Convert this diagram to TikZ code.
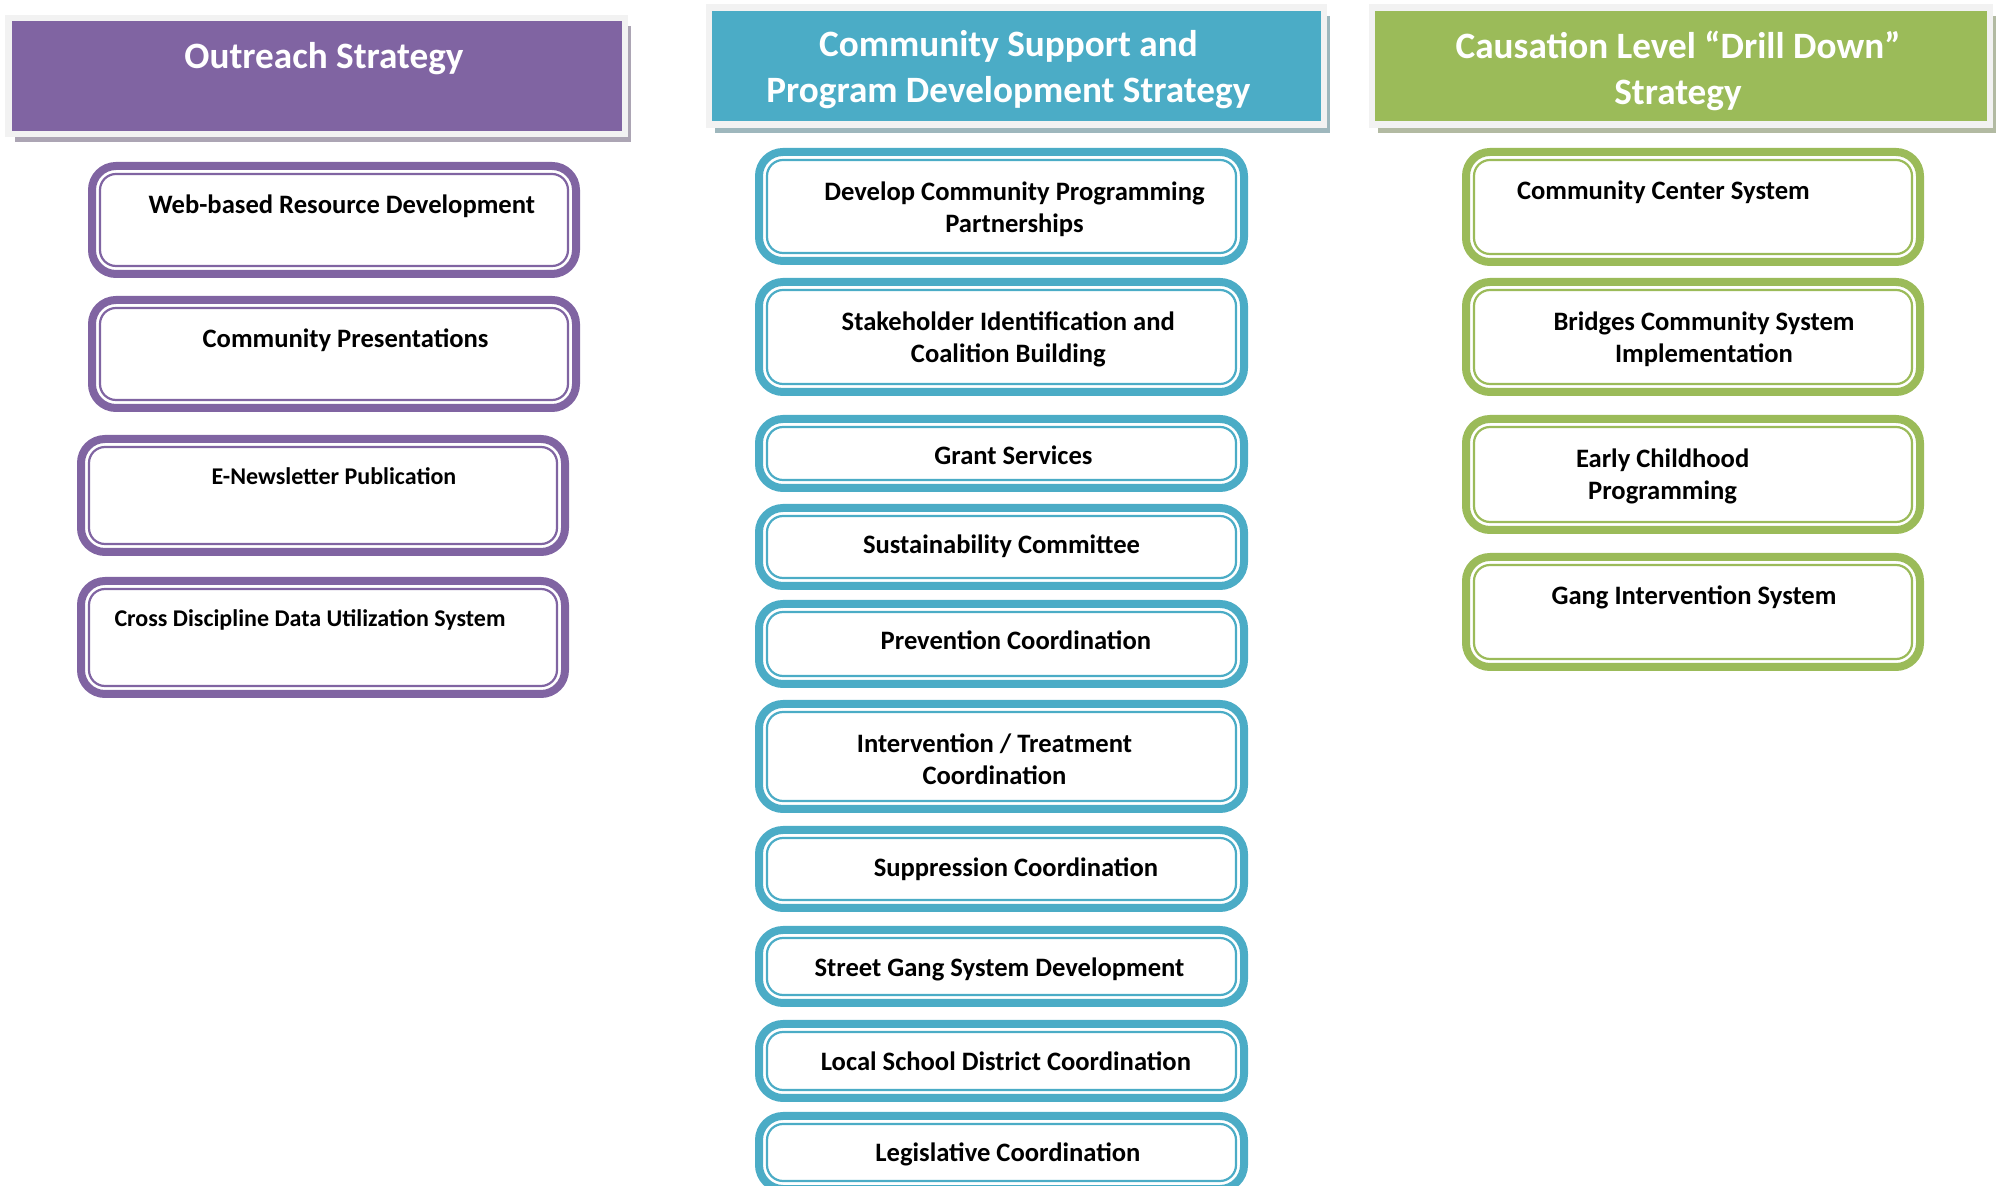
\documentclass[tikz,border=0pt]{standalone}
\usepackage{fontspec}
\setmainfont{Carlito}
\usetikzlibrary{positioning, shadows}
\definecolor{opurple}{HTML}{8064A2}
\definecolor{cblue}{HTML}{4BACC6}
\definecolor{dgreen}{HTML}{9BBB59}
\definecolor{framegray}{HTML}{F2F2F2}
\newcommand{\hdrfont}{\fontsize{18.6}{23}\selectfont\bfseries}
\newcommand{\boxfont}{\fontsize{13.3}{16}\selectfont\bfseries}
\newcommand{\smallboxfont}{\fontsize{12}{14.4}\selectfont\bfseries}
\tikzset{
    header/.style={rectangle, fill=#1, draw=framegray, line width=3.2pt, inner sep=0pt,
        drop shadow={shadow xshift=3.1pt, shadow yshift=-4.1pt, fill=#1!55!black, opacity=.45}},
    headtext/.style={text=white, font=\hdrfont, align=center, inner sep=0pt, execute at begin node=\strut},
    itembox/.style={rectangle, draw=#1, line width=4pt, rounded corners=12pt, outer sep=0pt, inner sep=0pt},
    pbox/.style={itembox=opurple, minimum width=242pt},
    cbox/.style={itembox=cblue, minimum width=242.5pt},
    gbox/.style={itembox=dgreen, minimum width=227pt},
    innerline/.style={draw=#1, line width=1.1pt, rounded corners=8pt},
    itemtext/.style={font=\boxfont, align=center, inner sep=0pt, execute at begin node=\strut}
}
\begin{document}
\begin{tikzpicture}[x=0.5pt, y=-0.5pt]
    \useasboundingbox (0,0) rectangle (1999,1186);
    \clip (0,0) rectangle (1999,1186);

    % column heads
    \node[header=opurple, minimum width=308.2pt, minimum height=58pt] (ohead) at (316.5,75.9) {};
    \node[headtext, below=10.5pt of ohead.north, xshift=3.75pt] (oheadtext) {Outreach Strategy};
    \node[header=cblue, minimum width=307.6pt, minimum height=58.4pt] (chead) at (1016.4,66) {};
    \node[headtext, below=13pt of chead.north, xshift=-4pt] (cheadtext) {Community Support and\\Program Development Strategy};
    \node[header=dgreen, minimum width=309.2pt, minimum height=58.4pt] (dhead) at (1681,66) {};
    \node[headtext, below=13pt of dhead.north, xshift=-1.5pt] (dheadtext) {Causation Level ``Drill Down''\\Strategy};

    % outreach
    \node[pbox, minimum height=54pt] (web) at (334,220) {};
    \node[itemtext, below=12.6pt of web.north, xshift=3.9pt] (webtext) {Web-based Resource Development};
    \node[pbox, minimum height=54pt] (pres) at (334,354) {};
    \node[itemtext, below=12.6pt of pres.north, xshift=5.8pt] (prestext) {Community Presentations};
    \node[pbox, minimum height=56.5pt] (enews) at (323,495.5) {};
    \node[itemtext, font=\smallboxfont, below=12.6pt of enews.north, xshift=5.5pt] (enewstext) {E-Newsletter Publication};
    \node[pbox, minimum height=56.5pt] (cross) at (323,637.5) {};
    \node[itemtext, font=\smallboxfont, below=12.6pt of cross.north, xshift=-6.5pt] (crosstext) {Cross Discipline Data Utilization System};

    % community support
    \node[cbox, minimum height=54.5pt] (dev) at (1001.5,206.5) {};
    \node[itemtext, below=14.5pt of dev.north, xshift=6.5pt] (devtext) {Develop Community Programming\\Partnerships};
    \node[cbox, minimum height=55pt] (stake) at (1001.5,337) {};
    \node[itemtext, below=14.5pt of stake.north, xshift=3.4pt] (staketext) {Stakeholder Identification and\\Coalition Building};
    \node[cbox, minimum height=34.5pt] (grant) at (1001.5,453.5) {};
    \node[itemtext, below=11.5pt of grant.north, xshift=6pt] (granttext) {Grant Services};
    \node[cbox, minimum height=39pt] (sustain) at (1001.5,547) {};
    \node[itemtext, below=11.5pt of sustain.north] (sustaintext) {Sustainability Committee};
    \node[cbox, minimum height=40pt] (prevent) at (1001.5,644) {};
    \node[itemtext, below=11.5pt of prevent.north, xshift=7.2pt] (preventtext) {Prevention Coordination};
    \node[cbox, minimum height=52.5pt] (interv) at (1001.5,756.5) {};
    \node[itemtext, below=14.5pt of interv.north, xshift=-3.5pt] (intervtext) {Intervention / Treatment\\Coordination};
    \node[cbox, minimum height=39pt] (suppress) at (1001.5,869) {};
    \node[itemtext, below=11.8pt of suppress.north, xshift=7.2pt] (suppresstext) {Suppression Coordination};
    \node[cbox, minimum height=36.5pt] (street) at (1001.5,966.5) {};
    \node[itemtext, below=11.8pt of street.north, xshift=-1pt] (streettext) {Street Gang System Development};
    \node[cbox, minimum height=37pt] (school) at (1001.5,1061) {};
    \node[itemtext, below=11.8pt of school.north, xshift=2.2pt] (schooltext) {Local School District Coordination};
    \node[cbox, minimum height=36.5pt] (legis) at (1001.5,1152.5) {};
    \node[itemtext, below=11.5pt of legis.north, xshift=3.2pt] (legistext) {Legislative Coordination};

    % drill down
    \node[gbox, minimum height=55pt] (ccenter) at (1693,207) {};
    \node[itemtext, below=12.6pt of ccenter.north, xshift=-14.8pt] (ccentertext) {Community Center System};
    \node[gbox, minimum height=55pt] (bridges) at (1693,337) {};
    \node[itemtext, below=14.5pt of bridges.north, xshift=5.5pt] (bridgestext) {Bridges Community System\\Implementation};
    \node[gbox, minimum height=55.5pt] (early) at (1693,474.5) {};
    \node[itemtext, below=14.5pt of early.north, xshift=-15.2pt] (earlytext) {Early Childhood\\Programming};
    \node[gbox, minimum height=55pt] (gangint) at (1693,612) {};
    \node[itemtext, below=12.6pt of gangint.north, xshift=0.5pt] (ganginttext) {Gang Intervention System};

    \foreach \n/\c in {web/opurple, pres/opurple, enews/opurple, cross/opurple,
        dev/cblue, stake/cblue, grant/cblue, sustain/cblue, prevent/cblue,
        interv/cblue, suppress/cblue, street/cblue, school/cblue, legis/cblue,
        ccenter/dgreen, bridges/dgreen, early/dgreen, gangint/dgreen}
        \draw[innerline=\c] ([shift={(4pt,-4pt)}]\n.north west) rectangle ([shift={(-4pt,4pt)}]\n.south east);
\end{tikzpicture}
\end{document}
